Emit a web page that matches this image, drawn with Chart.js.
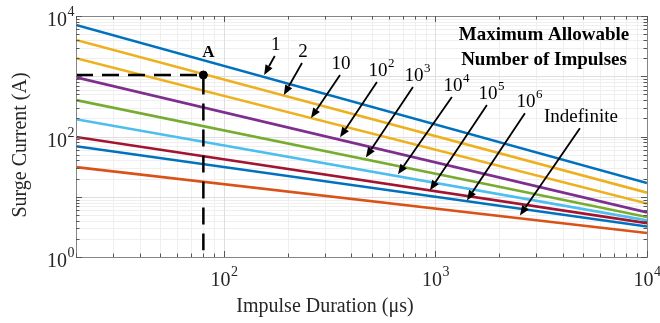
<head>
<meta charset="utf-8">
<script src="https://cdn.jsdelivr.net/npm/chart.js@4.4.1/dist/chart.umd.min.js"></script>
<style>
body{margin:0;background:#fff;}
</style>
</head>
<body>
<canvas id="surgeChart" width="660" height="323"></canvas>
<script>
// impulse duration (us) at the two ends of every curve
var durations = [20, 10000];
// surge current (A) for each allowable number of impulses
var n1   = [7100, 16.9];
var n2   = [4000, 11.7];
var n10  = [1990, 7.7];
var n1e2 = [960, 5.5];
var n1e3 = [402, 4.6];
var n1e4 = [194, 4.05];
var n1e5 = [98, 3.65];
var n1e6 = [69, 3.2];
var nInf = [31, 2.5];
var curveNames = ['1','2','10','10^2','10^3','10^4','10^5','10^6','Indefinite'];
var curveColors = ['#0072BD','#EDB120','#EDB120','#7E2F8E','#77AC30','#4DBEEE','#A2142F','#0072BD','#D95319'];

// point A and its dashed guides
var pointA = {x: 80, y: 1050};
var guideBottom = 1.3;

// arrows: tail (near label) and tip (on the curve), in data units
var arrowTailX = [174, 234, 354, 529, 783, 1196, 1751, 2648, 4820];
var arrowTailY = [2170, 1660, 1047, 800, 661, 451, 332, 244, 137];
var arrowTipX  = [155, 192, 258, 354, 469, 665, 942, 1409, 2507];
var arrowTipY  = [1050, 487, 202, 97, 45, 23.6, 12.8, 8.7, 4.9];
var arrowBase  = ['1','2','10','10','10','10','10','10','Indefinite'];
var arrowExp   = ['','','','2','3','4','5','6',''];

// axis tick labels (powers of ten)
var xTickExps = [2, 3, 4];
var yTickExps = [0, 2, 4];

var FONT = '"Liberation Serif", "Times New Roman", serif';

var series = [n1, n2, n10, n1e2, n1e3, n1e4, n1e5, n1e6, nInf];

function pts(vals){
	var out = [];
	for(var i=0;i<durations.length;i++) out.push({x: durations[i], y: vals[i]});
	return out;
}

var datasets = [];
// dashed guide first so it sits on top
datasets.push({
	data: [{x: 20, y: pointA.y}, {x: pointA.x, y: pointA.y}, {x: pointA.x, y: guideBottom}],
	borderColor: '#000', borderWidth: 2.5, borderDash: [17, 9], pointRadius: 0, fill: false
});
datasets.push({
	data: [pointA], borderColor: '#000', backgroundColor: '#000', pointRadius: 4, showLine: false
});
for(var i=0;i<series.length;i++){
	datasets.push({
		label: curveNames[i],
		data: pts(series[i]),
		borderColor: curveColors[i],
		borderWidth: 2.6,
		pointRadius: 0,
		fill: false
	});
}

function drawPow(ctx, x, y, base, exp, size, align){
	// x is the anchor, y the middle of the base text
	ctx.font = size + 'px ' + FONT;
	var wb = ctx.measureText(base).width;
	ctx.font = Math.round(size*0.68) + 'px ' + FONT;
	var we = exp ? ctx.measureText(exp).width : 0;
	var left;
	if(align == 'right') left = x - wb - we;
	else if(align == 'center') left = x - (wb + we)/2;
	else left = x - wb/2; // centre on the base text
	ctx.textAlign = 'left';
	ctx.textBaseline = 'middle';
	ctx.font = size + 'px ' + FONT;
	ctx.fillText(base, left, y);
	if(exp){
		ctx.font = Math.round(size*0.68) + 'px ' + FONT;
		ctx.fillText(exp, left + wb + 0.5, y - size*0.42);
	}
}

function arrow(ctx, x0, y0, x1, y1){
	var ang = Math.atan2(y1-y0, x1-x0);
	var hl = 10, hw = 4;
	var bx = x1 - hl*Math.cos(ang), by = y1 - hl*Math.sin(ang);
	ctx.beginPath();
	ctx.moveTo(x0, y0);
	ctx.lineTo(bx, by);
	ctx.stroke();
	ctx.beginPath();
	ctx.moveTo(x1, y1);
	ctx.lineTo(bx + hw*Math.sin(ang), by - hw*Math.cos(ang));
	ctx.lineTo(bx - hw*Math.sin(ang), by + hw*Math.cos(ang));
	ctx.closePath();
	ctx.fill();
}

var decor = {
	id: 'decor',
	beforeDatasetsDraw: function(chart){
		var ctx = chart.ctx, xs = chart.scales.x, ys = chart.scales.y, a = chart.chartArea;
		ctx.save();
		ctx.lineWidth = 1;
		// minor grid
		ctx.strokeStyle = '#efefef';
		for(var d=10; d<10000; d*=10){
			for(var k=2;k<10;k++){
				var v = d*k;
				if(v<20 || v>10000) continue;
				var px = Math.round(xs.getPixelForValue(v)) + 0.5;
				ctx.beginPath(); ctx.moveTo(px, a.top); ctx.lineTo(px, a.bottom); ctx.stroke();
			}
		}
		for(var d=1; d<10000; d*=10){
			for(var k=2;k<10;k++){
				var py = Math.round(ys.getPixelForValue(d*k)) + 0.5;
				ctx.beginPath(); ctx.moveTo(a.left, py); ctx.lineTo(a.right, py); ctx.stroke();
			}
		}
		// major grid
		ctx.strokeStyle = '#dedede';
		for(var d=100; d<10000; d*=10){
			var px = Math.round(xs.getPixelForValue(d)) + 0.5;
			ctx.beginPath(); ctx.moveTo(px, a.top); ctx.lineTo(px, a.bottom); ctx.stroke();
		}
		for(var d=10; d<10000; d*=10){
			var py = Math.round(ys.getPixelForValue(d)) + 0.5;
			ctx.beginPath(); ctx.moveTo(a.left, py); ctx.lineTo(a.right, py); ctx.stroke();
		}
		ctx.restore();
	},
	afterDatasetsDraw: function(chart){
		var ctx = chart.ctx, xs = chart.scales.x, ys = chart.scales.y, a = chart.chartArea;
		ctx.save();
		// box
		ctx.strokeStyle = '#858585';
		ctx.lineWidth = 1;
		ctx.strokeRect(Math.round(a.left)+0.5, Math.round(a.top)+0.5, Math.round(a.right-a.left), Math.round(a.bottom-a.top));
		// tick marks, inside on all four sides
		ctx.strokeStyle = '#555';
		for(var d=10; d<=10000; d*=10){
			for(var k=1;k<10;k++){
				var v = d*k;
				if(v<20 || v>10000) continue;
				var len = k==1 ? 6 : 3.5;
				var px = Math.round(xs.getPixelForValue(v)) + 0.5;
				ctx.beginPath();
				ctx.moveTo(px, a.bottom); ctx.lineTo(px, a.bottom-len);
				ctx.moveTo(px, a.top); ctx.lineTo(px, a.top+len);
				ctx.stroke();
			}
		}
		for(var d=1; d<=10000; d*=10){
			for(var k=1;k<10;k++){
				var v = d*k;
				if(v>10000) continue;
				var len = k==1 ? 6 : 3.5;
				var py = Math.round(ys.getPixelForValue(v)) + 0.5;
				ctx.beginPath();
				ctx.moveTo(a.left, py); ctx.lineTo(a.left+len, py);
				ctx.moveTo(a.right, py); ctx.lineTo(a.right-len, py);
				ctx.stroke();
			}
		}
		// tick labels
		ctx.fillStyle = '#262626';
		for(var i=0;i<xTickExps.length;i++){
			var px = xs.getPixelForValue(Math.pow(10, xTickExps[i]));
			drawPow(ctx, px, a.bottom + 24, '10', String(xTickExps[i]), 20, 'center');
		}
		for(var i=0;i<yTickExps.length;i++){
			var py = ys.getPixelForValue(Math.pow(10, yTickExps[i]));
			drawPow(ctx, a.left - 2, py + 5, '10', String(yTickExps[i]), 20, 'right');
		}
		// axis titles
		ctx.fillStyle = '#262626';
		ctx.font = '20px ' + FONT;
		ctx.textAlign = 'center';
		ctx.textBaseline = 'middle';
		ctx.fillText('Impulse Duration (\u03bcs)', 325, 307);
		ctx.save();
		ctx.translate(21, 145);
		ctx.rotate(-Math.PI/2);
		ctx.fillText('Surge Current (A)', 0, 0);
		ctx.restore();
		// legend title inside the plot
		ctx.fillStyle = '#000';
		ctx.font = 'bold 19px ' + FONT;
		ctx.fillText('Maximum Allowable', a.right - 103, 35);
		ctx.fillText('Number of Impulses', a.right - 103, 60);
		// point A label
		var ax = xs.getPixelForValue(pointA.x), ay = ys.getPixelForValue(pointA.y);
		ctx.font = 'bold 17px ' + FONT;
		ctx.fillText('A', ax + 5, ay - 22);
		// arrows and their labels
		ctx.strokeStyle = '#000';
		ctx.fillStyle = '#000';
		ctx.lineWidth = 1.8;
		for(var i=0;i<arrowTailX.length;i++){
			var x0 = xs.getPixelForValue(arrowTailX[i]), y0 = ys.getPixelForValue(arrowTailY[i]);
			var x1 = xs.getPixelForValue(arrowTipX[i]), y1 = ys.getPixelForValue(arrowTipY[i]);
			arrow(ctx, x0, y0, x1, y1);
			drawPow(ctx, x0 + 1, y0 - 11, arrowBase[i], arrowExp[i], 19, 'base');
		}
		ctx.restore();
	}
};

var chart = new Chart(document.getElementById('surgeChart').getContext('2d'), {
	type: 'line',
	data: {datasets: datasets},
	options: {
		responsive: false,
		animation: false,
		layout: {padding: {left: 76, right: 13, top: 16, bottom: 66}},
		plugins: {legend: {display: false}, tooltip: {enabled: false}},
		scales: {
			x: {type: 'logarithmic', min: 20, max: 10000, display: false},
			y: {type: 'logarithmic', min: 1, max: 10000, display: false}
		}
	},
	plugins: [decor]
});
</script>
</body>
